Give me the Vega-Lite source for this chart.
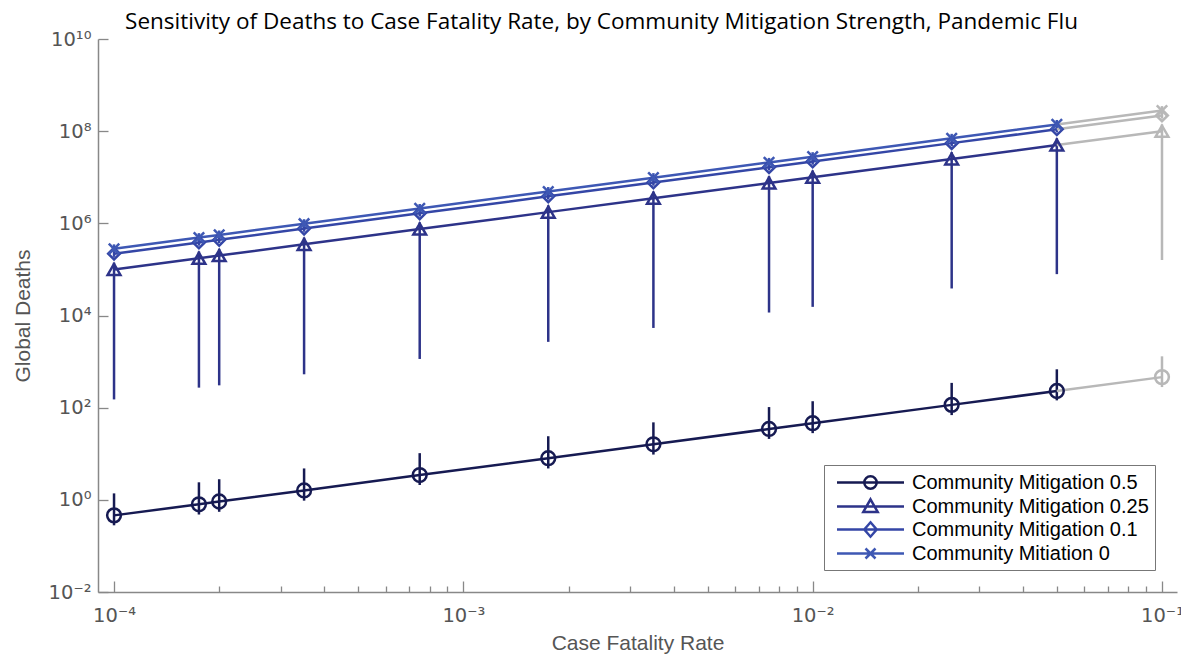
{
  "$schema": "https://vega.github.io/schema/vega-lite/v6.json",
  "width": 1079,
  "height": 553,
  "autosize": {"type": "none"},
  "padding": {"left": 98, "top": 39, "right": 4, "bottom": 66},
  "background": "white",
  "config": {"view": {"stroke": null}},
  "title": {
    "text": "Sensitivity of Deaths to Case Fatality Rate, by Community Mitigation Strength, Pandemic Flu",
    "font": "Open Sans",
    "fontSize": 22.5,
    "fontWeight": "normal",
    "color": "black",
    "anchor": "middle",
    "baseline": "alphabetic",
    "offset": 9,
    "dx": -36,
    "dy": 31
  },
  "datasets": {
    "pts": [
      {"series": "Community Mitigation 0.5", "cfr": 0.0001, "deaths": 0.46, "lo": 0.28, "hi": 1.38},
      {"series": "Community Mitigation 0.5", "cfr": 0.000175, "deaths": 0.8, "lo": 0.48, "hi": 2.4},
      {"series": "Community Mitigation 0.5", "cfr": 0.0002, "deaths": 0.92, "lo": 0.55, "hi": 2.8},
      {"series": "Community Mitigation 0.5", "cfr": 0.00035, "deaths": 1.6, "lo": 0.96, "hi": 4.8},
      {"series": "Community Mitigation 0.5", "cfr": 0.00075, "deaths": 3.45, "lo": 2.1, "hi": 10.3},
      {"series": "Community Mitigation 0.5", "cfr": 0.00175, "deaths": 8.0, "lo": 4.8, "hi": 24},
      {"series": "Community Mitigation 0.5", "cfr": 0.0035, "deaths": 16, "lo": 9.6, "hi": 48},
      {"series": "Community Mitigation 0.5", "cfr": 0.0075, "deaths": 34.5, "lo": 21, "hi": 103},
      {"series": "Community Mitigation 0.5", "cfr": 0.01, "deaths": 46, "lo": 28, "hi": 138},
      {"series": "Community Mitigation 0.5", "cfr": 0.025, "deaths": 115, "lo": 69, "hi": 345},
      {"series": "Community Mitigation 0.5", "cfr": 0.05, "deaths": 230, "lo": 144, "hi": 680},
      {"series": "Community Mitigation 0.5", "cfr": 0.1, "deaths": 460, "lo": 280, "hi": 1300},
      {"series": "Community Mitigation 0.25", "cfr": 0.0001, "deaths": 100000, "lo": 151, "hi": 140000},
      {"series": "Community Mitigation 0.25", "cfr": 0.000175, "deaths": 175000, "lo": 272, "hi": 245000},
      {"series": "Community Mitigation 0.25", "cfr": 0.0002, "deaths": 200000, "lo": 305, "hi": 280000},
      {"series": "Community Mitigation 0.25", "cfr": 0.00035, "deaths": 350000, "lo": 530, "hi": 490000},
      {"series": "Community Mitigation 0.25", "cfr": 0.00075, "deaths": 750000, "lo": 1140, "hi": 1050000},
      {"series": "Community Mitigation 0.25", "cfr": 0.00175, "deaths": 1750000, "lo": 2680, "hi": 2450000},
      {"series": "Community Mitigation 0.25", "cfr": 0.0035, "deaths": 3500000, "lo": 5370, "hi": 4900000},
      {"series": "Community Mitigation 0.25", "cfr": 0.0075, "deaths": 7500000, "lo": 11600, "hi": 10500000},
      {"series": "Community Mitigation 0.25", "cfr": 0.01, "deaths": 10000000, "lo": 15400, "hi": 14000000},
      {"series": "Community Mitigation 0.25", "cfr": 0.025, "deaths": 25000000, "lo": 38600, "hi": 35000000},
      {"series": "Community Mitigation 0.25", "cfr": 0.05, "deaths": 50000000, "lo": 79000, "hi": 70000000},
      {"series": "Community Mitigation 0.25", "cfr": 0.1, "deaths": 100000000, "lo": 160000, "hi": 140000000},
      {"series": "Community Mitigation 0.1", "cfr": 0.0001, "deaths": 220000, "lo": 187000, "hi": 264000},
      {"series": "Community Mitigation 0.1", "cfr": 0.000175, "deaths": 385000, "lo": 327000, "hi": 462000},
      {"series": "Community Mitigation 0.1", "cfr": 0.0002, "deaths": 440000, "lo": 374000, "hi": 528000},
      {"series": "Community Mitigation 0.1", "cfr": 0.00035, "deaths": 770000, "lo": 655000, "hi": 924000},
      {"series": "Community Mitigation 0.1", "cfr": 0.00075, "deaths": 1650000, "lo": 1400000, "hi": 1980000},
      {"series": "Community Mitigation 0.1", "cfr": 0.00175, "deaths": 3850000, "lo": 3270000, "hi": 4620000},
      {"series": "Community Mitigation 0.1", "cfr": 0.0035, "deaths": 7700000, "lo": 6550000, "hi": 9240000},
      {"series": "Community Mitigation 0.1", "cfr": 0.0075, "deaths": 16500000, "lo": 14000000, "hi": 19800000},
      {"series": "Community Mitigation 0.1", "cfr": 0.01, "deaths": 22000000, "lo": 18700000, "hi": 26400000},
      {"series": "Community Mitigation 0.1", "cfr": 0.025, "deaths": 55000000, "lo": 46800000, "hi": 66000000},
      {"series": "Community Mitigation 0.1", "cfr": 0.05, "deaths": 110000000, "lo": 93500000, "hi": 132000000},
      {"series": "Community Mitigation 0.1", "cfr": 0.1, "deaths": 220000000, "lo": 187000000, "hi": 264000000},
      {"series": "Community Mitiation 0", "cfr": 0.0001, "deaths": 280000, "lo": 238000, "hi": 350000},
      {"series": "Community Mitiation 0", "cfr": 0.000175, "deaths": 490000, "lo": 417000, "hi": 613000},
      {"series": "Community Mitiation 0", "cfr": 0.0002, "deaths": 560000, "lo": 476000, "hi": 700000},
      {"series": "Community Mitiation 0", "cfr": 0.00035, "deaths": 980000, "lo": 833000, "hi": 1230000},
      {"series": "Community Mitiation 0", "cfr": 0.00075, "deaths": 2100000, "lo": 1790000, "hi": 2630000},
      {"series": "Community Mitiation 0", "cfr": 0.00175, "deaths": 4900000, "lo": 4170000, "hi": 6130000},
      {"series": "Community Mitiation 0", "cfr": 0.0035, "deaths": 9800000, "lo": 8330000, "hi": 12300000},
      {"series": "Community Mitiation 0", "cfr": 0.0075, "deaths": 21000000, "lo": 17900000, "hi": 26300000},
      {"series": "Community Mitiation 0", "cfr": 0.01, "deaths": 28000000, "lo": 23800000, "hi": 35000000},
      {"series": "Community Mitiation 0", "cfr": 0.025, "deaths": 70000000, "lo": 59500000, "hi": 87500000},
      {"series": "Community Mitiation 0", "cfr": 0.05, "deaths": 140000000, "lo": 119000000, "hi": 175000000},
      {"series": "Community Mitiation 0", "cfr": 0.1, "deaths": 280000000, "lo": 238000000, "hi": 350000000}
    ]
  },
  "data": {"name": "pts"},
  "encoding": {
    "x": {
      "field": "cfr",
      "type": "quantitative",
      "scale": {"type": "log", "domain": [0.00008997, 0.1104], "nice": false},
      "axis": {
        "title": "Case Fatality Rate",
        "titleFont": "Liberation Sans",
        "titleFontSize": 21,
        "titleFontWeight": "normal",
        "titleColor": "#555555",
        "titlePadding": 3,
        "values": [0.0001, 0.0002, 0.0003, 0.0004, 0.0005, 0.0006, 0.0007, 0.0008, 0.0009, 0.001, 0.002, 0.003, 0.004, 0.005, 0.006, 0.007, 0.008, 0.009, 0.01, 0.02, 0.03, 0.04, 0.05, 0.06, 0.07, 0.08, 0.09, 0.1],
        "labelExpr": "abs(log(datum.value)/LN10 - round(log(datum.value)/LN10)) < 0.000001 ? '10' + (round(log(datum.value)/LN10) < 0 ? '⁻' : '') + ['⁰','¹','²','³','⁴','⁵','⁶','⁷','⁸','⁹','¹⁰'][abs(round(log(datum.value)/LN10))] : ''",
        "labelFont": "DejaVu Sans",
        "labelFontSize": 19.5,
        "labelColor": "#555555",
        "labelOverlap": false,
        "labelBound": false,
        "labelFlush": false,
        "labelPadding": 25,
        "tickSize": {"condition": {"test": "abs(log(datum.value)/LN10 - round(log(datum.value)/LN10)) < 0.000001", "value": -11}, "value": -6},
        "tickColor": "#888888",
        "tickWidth": 1.3,
        "domainColor": "#888888",
        "domainWidth": 1.5,
        "grid": false
      }
    },
    "y": {
      "field": "deaths",
      "type": "quantitative",
      "scale": {"type": "log", "domain": [0.01, 10000000000], "nice": false},
      "axis": {
        "title": "Global Deaths",
        "titleFont": "Liberation Sans",
        "titleFontSize": 21,
        "titleFontWeight": "normal",
        "titleColor": "#555555",
        "titlePadding": 15,
        "values": [0.01, 1, 100, 10000, 1000000, 100000000, 10000000000],
        "labelExpr": "'10' + (round(log(datum.value)/LN10) < 0 ? '⁻' : '') + ['⁰','¹','²','³','⁴','⁵','⁶','⁷','⁸','⁹','¹⁰'][abs(round(log(datum.value)/LN10))]",
        "labelFont": "DejaVu Sans",
        "labelFontSize": 19.5,
        "labelColor": "#555555",
        "labelOverlap": false,
        "labelBound": false,
        "labelFlush": false,
        "labelPadding": 17,
        "tickSize": -10,
        "tickColor": "#888888",
        "tickWidth": 1.3,
        "domainColor": "#888888",
        "domainWidth": 1.5,
        "grid": false
      }
    }
  },
  "layer": [
    {
      "mark": {"type": "rule", "strokeWidth": 2.5},
      "encoding": {
        "y": {"field": "lo", "type": "quantitative"},
        "y2": {"field": "hi"},
        "color": {
          "condition": {"test": "datum.cfr >= 0.1", "value": "#b8b8b8"},
          "field": "series",
          "type": "nominal",
          "scale": {"range": ["#3e58b4", "#3446a6", "#2d3389", "#161a52"]},
          "legend": null
        }
      }
    },
    {
      "transform": [{"filter": "datum.cfr <= 0.05"}],
      "mark": {"type": "line", "strokeWidth": 2.5},
      "encoding": {
        "stroke": {
          "field": "series",
          "type": "nominal",
          "scale": {
            "domain": ["Community Mitigation 0.5", "Community Mitigation 0.25", "Community Mitigation 0.1", "Community Mitiation 0"],
            "range": ["#161a52", "#2d3389", "#3446a6", "#3e58b4"]
          },
          "legend": {
            "title": null,
            "orient": "bottom-right",
            "offset": 22,
            "padding": 6,
            "strokeColor": "#777777",
            "fillColor": "white",
            "symbolType": "stroke",
            "symbolSize": 400,
            "symbolOffset": 29,
            "symbolStrokeWidth": 2.5,
            "symbolFillColor": "transparent",
            "labelFont": "Liberation Sans",
            "labelFontSize": 20,
            "labelColor": "black",
            "labelOffset": 30,
            "labelLimit": 500,
            "rowPadding": 0,
            "encode": {
              "symbols": {
                "update": {
                  "shape": {"signal": "datum.value === 'Community Mitigation 0.5' ? 'M-3.35,0L3.35,0M-0.62,0A0.62,0.62 0 1,0 0.62,0A0.62,0.62 0 1,0 -0.62,0' : datum.value === 'Community Mitigation 0.25' ? 'M-3.35,0L3.35,0M0,-0.72L0.72,0.55L-0.72,0.55Z' : datum.value === 'Community Mitigation 0.1' ? 'M-3.35,0L3.35,0M0,-0.72L0.62,0L0,0.72L-0.62,0Z' : 'M-3.35,0L3.35,0M-0.5,-0.5L0.5,0.5M-0.5,0.5L0.5,-0.5'"},
                  "fill": {"value": "transparent"},
                  "strokeWidth": {"value": 2.5}
                }
              }
            }
          }
        }
      }
    },
    {
      "transform": [{"filter": "datum.cfr >= 0.05"}],
      "mark": {"type": "line", "strokeWidth": 2.5, "color": "#b8b8b8"},
      "encoding": {"detail": {"field": "series", "type": "nominal"}}
    },
    {
      "mark": {"type": "point", "filled": false, "strokeWidth": 2.5, "opacity": 1},
      "encoding": {
        "shape": {
          "field": "series",
          "type": "nominal",
          "scale": {"range": ["M-1,-1L1,1M-1,1L1,-1", "diamond", "triangle-up", "circle"]},
          "legend": null
        },
        "size": {
          "field": "series",
          "type": "nominal",
          "scale": {"range": [110, 190, 210, 180]},
          "legend": null
        },
        "color": {
          "condition": {"test": "datum.cfr >= 0.1", "value": "#b8b8b8"},
          "field": "series",
          "type": "nominal",
          "legend": null
        }
      }
    }
  ]
}
